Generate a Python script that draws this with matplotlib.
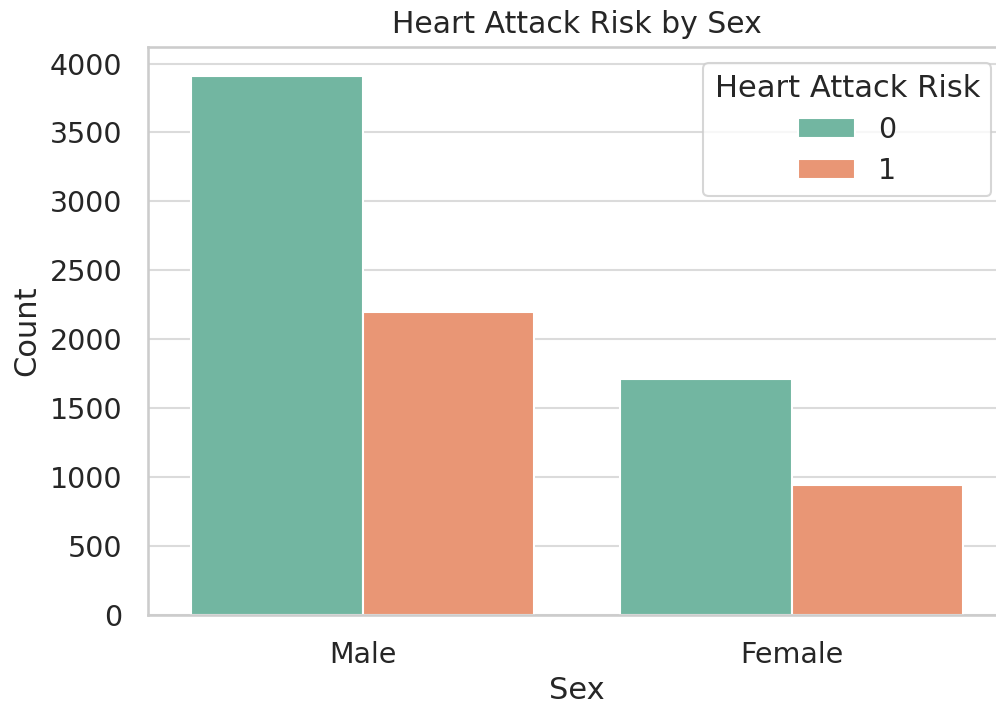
import matplotlib
matplotlib.use("Agg")
import matplotlib.pyplot as plt
import seaborn as sns
import pandas as pd

# counts
sex = ["Male", "Male", "Female", "Female"]
risk = ["0", "1", "0", "1"]
counts = [3912, 2199, 1712, 940]

df = pd.DataFrame({"Sex": sex, "Heart Attack Risk": risk, "Count": counts})

sns.set_theme(style="whitegrid", context="talk",
              rc={"grid.color": "0.86", "axes.edgecolor": "0.8"})

fig = plt.figure(figsize=(9.96, 7.09), dpi=100)
ax = fig.add_axes([148 / 996, 94 / 709, 858 / 996, 568 / 709])
sns.barplot(data=df, x="Sex", y="Count", hue="Heart Attack Risk",
            palette="Set2", ax=ax)

ax.set_ylim(0, 4120)
ax.set_title("Heart Attack Risk by Sex", fontsize=21.5, pad=10)
ax.set_xlabel("Sex", fontsize=22, labelpad=5)
ax.set_ylabel("Count", fontsize=22, labelpad=6)
ax.tick_params(labelsize=20.5)
ax.tick_params(axis="x", pad=10)
ax.tick_params(axis="y", pad=9.5)
leg = ax.legend(title="Heart Attack Risk", fontsize=20.5, title_fontsize=22,
                loc="upper right", bbox_to_anchor=(0.9995, 0.997),
                labelspacing=0.45)

fig.savefig("out.png", dpi=100)
